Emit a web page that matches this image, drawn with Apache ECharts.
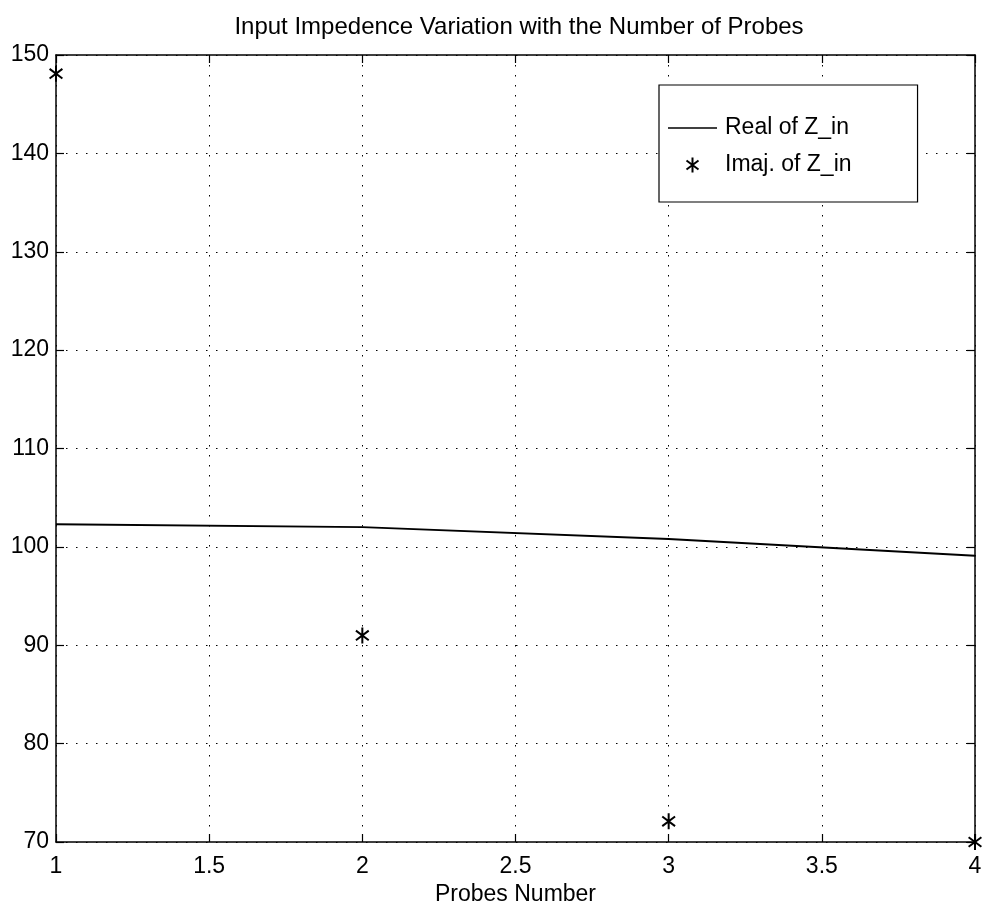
<!DOCTYPE html>
<html>
<head>
<meta charset="utf-8">
<script src="https://cdn.jsdelivr.net/npm/echarts@6/dist/echarts.min.js"></script>
<style>html,body{margin:0;padding:0;background:#fff}#c{width:985px;height:913px}</style>
</head>
<body>
<div id="c"></div>
<script>
var probes = [1, 2, 3, 4];
var realZin = [102.3, 102.0, 100.8, 99.1];
var imajZin = [148.1, 91.0, 72.1, 70.0];
var xTicks = {min: 1, max: 4, interval: 0.5};
var yTicks = {min: 70, max: 150, interval: 10};

var FONT = '"Liberation Sans", Arial, Helvetica, sans-serif';
var STAR = 'path://M5,0L5,10M1,2L9,8M1,8L9,2';
var LINE_ICON = 'path://M0,0L49,0L49,1.6L0,1.6Z';

var chart = echarts.init(document.getElementById('c'), null, {renderer: 'canvas'});
var axisCommon = {
  axisLine: {show: true, onZero: false, lineStyle: {color: '#000', width: 1.5}},
  axisTick: {show: true, inside: true, length: 8, lineStyle: {color: '#000', width: 1.2}},
};
chart.setOption({
  backgroundColor: '#fff',
  animation: false,
  title: {
    text: 'Input Impedence Variation with the Number of Probes',
    left: 514, textAlign: 'center', top: 10,
    textStyle: {fontFamily: FONT, fontSize: 24, fontWeight: 'normal', color: '#000'}
  },
  grid: {left: 56, right: 10, top: 55, bottom: 71, containLabel: false},
  legend: {
    orient: 'vertical', left: 659, top: 85,
    padding: [31, 66, 25, 9],
    borderColor: '#000', borderWidth: 1.2,
    backgroundColor: '#fff',
    itemWidth: 49, itemHeight: 15, itemGap: 13,
    symbolKeepAspect: true,
    textStyle: {fontFamily: FONT, fontSize: 23, color: '#000', lineHeight: 24, padding: [0, 0, 0, 3]},
    data: [
      {name: 'Real of Z_in', icon: LINE_ICON, itemStyle: {color: '#000', borderWidth: 0, opacity: 1}},
      {name: 'Imaj. of Z_in', icon: STAR, itemStyle: {color: 'none', borderColor: '#000', borderWidth: 2, opacity: 1}}
    ]
  },
  xAxis: [
    Object.assign({
      type: 'value', position: 'bottom',
      min: xTicks.min, max: xTicks.max, interval: xTicks.interval,
      name: 'Probes Number', nameLocation: 'middle', nameGap: 39,
      nameTextStyle: {fontFamily: FONT, fontSize: 23, color: '#000'},
      axisLabel: {fontFamily: FONT, fontSize: 23, color: '#000', margin: 13},
      splitLine: {show: true, lineStyle: {color: '#000', width: 1, type: [1.5, 8.5]}}
    }, axisCommon),
    Object.assign({
      type: 'value', position: 'top',
      min: xTicks.min, max: xTicks.max, interval: xTicks.interval,
      axisLabel: {show: false}, splitLine: {show: false}
    }, axisCommon)
  ],
  yAxis: [
    Object.assign({
      type: 'value', position: 'left',
      min: yTicks.min, max: yTicks.max, interval: yTicks.interval,
      axisLabel: {fontFamily: FONT, fontSize: 23, color: '#000', margin: 7},
      splitLine: {show: true, lineStyle: {color: '#000', width: 1, type: [1.5, 8.5]}}
    }, axisCommon),
    Object.assign({
      type: 'value', position: 'right',
      min: yTicks.min, max: yTicks.max, interval: yTicks.interval,
      axisLabel: {show: false}, splitLine: {show: false}
    }, axisCommon)
  ],
  series: [
    {
      name: 'Real of Z_in', type: 'line', xAxisIndex: 0, yAxisIndex: 0,
      data: probes.map(function (p, i) { return [p, realZin[i]]; }),
      symbol: 'none', showSymbol: false,
      lineStyle: {color: '#000', width: 1.8}, itemStyle: {color: '#000'}
    },
    {
      name: 'Imaj. of Z_in', type: 'scatter', xAxisIndex: 0, yAxisIndex: 0,
      data: probes.map(function (p, i) { return [p, imajZin[i]]; }),
      symbol: STAR, symbolSize: 16, symbolKeepAspect: true, clip: false, z: 5,
      itemStyle: {color: 'none', borderColor: '#000', borderWidth: 2, opacity: 1}
    }
  ]
});
</script>
</body>
</html>
